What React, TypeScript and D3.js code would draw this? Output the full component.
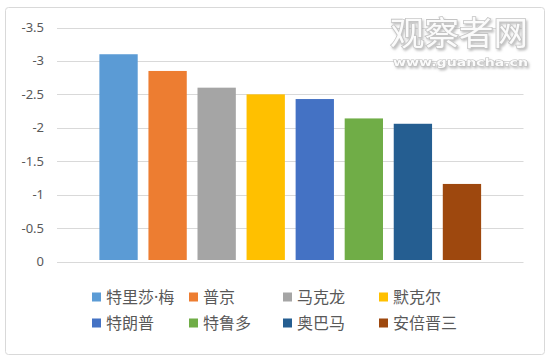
import React from "react";
import * as d3 from "d3";

const names = ["特里莎·梅", "普京", "马克龙", "默克尔", "特朗普", "特鲁多", "奥巴马", "安倍晋三"];
const values = [-3.1, -2.85, -2.6, -2.5, -2.43, -2.14, -2.06, -1.16];
const colors = ["#5B9BD5", "#ED7D31", "#A5A5A5", "#FFC000", "#4472C4", "#70AD47", "#255E91", "#9E480E"];
const yTicks = [0, -0.5, -1, -1.5, -2, -2.5, -3, -3.5];

const fmt = (t: number) => d3.format("")(t).replace("\u2212", "-");

export default function App() {
  const W = 550, H = 358;
  const x = d3.scaleBand<string>().domain(names).range([57, 523.5]).paddingInner(0.219).paddingOuter(0.864);
  const y = d3.scaleLinear().domain([0, -3.5]).range([261.5, 27.5]);
  const legendCols = [92, 189, 283, 379];
  const legendRows = [297, 323];
  const font = "'Noto Sans CJK SC', 'Noto Sans', sans-serif";
  const renderName = (n: string) => {
    const parts = n.split("·");
    if (parts.length === 1) return n;
    return (
      <>
        {parts[0]}
        <tspan fontFamily="'Noto Sans', sans-serif">·</tspan>
        {parts[1]}
      </>
    );
  };
  return (
    <svg width={W} height={H} style={{ position: "absolute", left: 0, top: 0, background: "#fff" }}>
      <defs>
        <filter id="wm" x="-10%" y="-20%" width="130%" height="160%">
          <feDropShadow dx="1.5" dy="2" stdDeviation="1.2" floodColor="#999" floodOpacity="0.6" />
        </filter>
      </defs>
      <rect x={5.5} y={7.5} width={539} height={347} rx={3} fill="#fff" stroke="#d9d9d9" />
      {yTicks.map((t) => (
        <g key={t}>
          <line x1={57} x2={523.5} y1={Math.round(y(t)) + 0.5} y2={Math.round(y(t)) + 0.5} stroke="#d9d9d9" />
          <text x={44} y={y(t)} dy="0.35em" textAnchor="end" fontSize={13} fill="#595959" fontFamily="'Noto Sans', 'DejaVu Sans', sans-serif">
            {fmt(t)}
          </text>
        </g>
      ))}
      {names.map((n, i) => (
        <rect key={n} x={x(n)} y={y(values[i])} width={x.bandwidth()} height={y(0) - y(values[i]) - 1.5} fill={colors[i]} />
      ))}
      {names.map((n, i) => {
        const cx = legendCols[i % 4];
        const cy = legendRows[Math.floor(i / 4)];
        return (
          <g key={"l" + n}>
            <rect x={cx} y={cy - 4.5} width={9} height={9} fill={colors[i]} />
            <text x={cx + 14} y={cy} dy="0.35em" fontSize={16} fill="#595959" fontFamily={font}>
              {renderName(n)}
            </text>
          </g>
        );
      })}
      <g filter="url(#wm)">
        <text x={390} y={45} fontSize={33} textLength={138} lengthAdjust="spacingAndGlyphs" fill="#fbfbfb" stroke="#c4c4c4" strokeWidth={1.6} paintOrder="stroke" fontFamily={font}>
          观察者网
        </text>
        <text x={393} y={66} fontSize={11} fontWeight="bold" textLength={135} lengthAdjust="spacingAndGlyphs" fill="#fbfbfb" stroke="#bdbdbd" strokeWidth={1} paintOrder="stroke" fontFamily="'DejaVu Sans', sans-serif">
          www.guancha.cn
        </text>
      </g>
    </svg>
  );
}
